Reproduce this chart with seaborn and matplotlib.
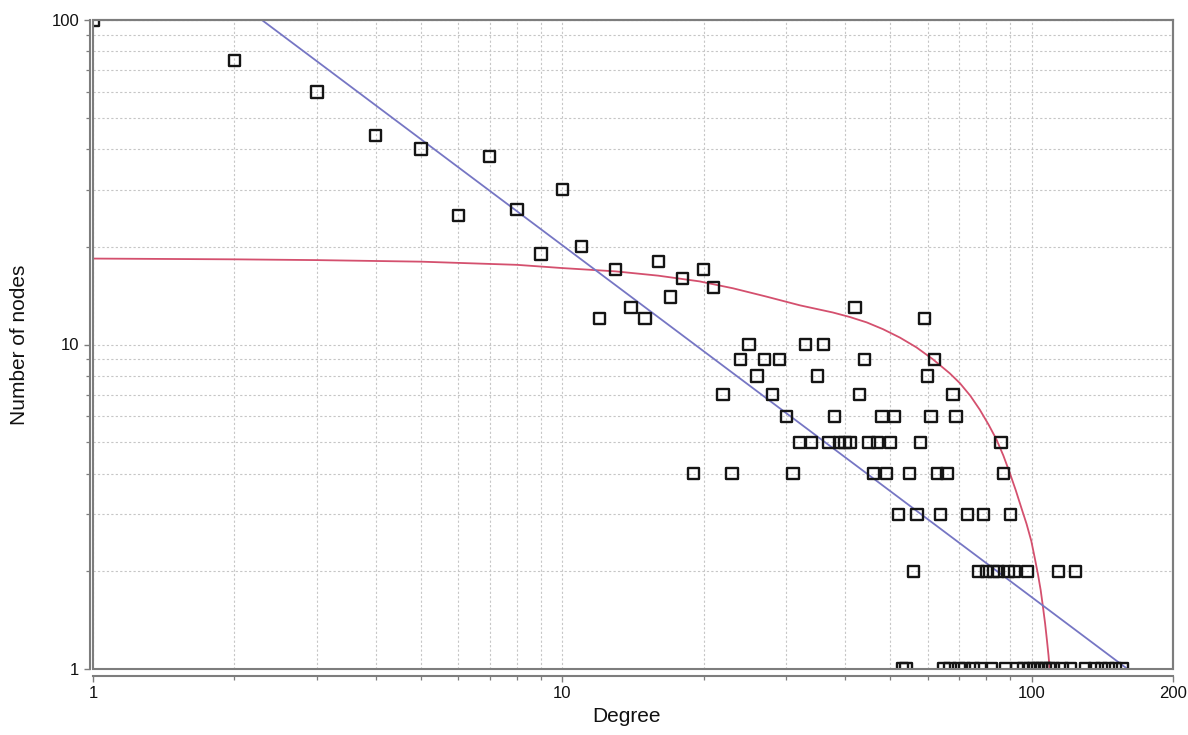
import matplotlib
matplotlib.use("Agg")
import matplotlib.pyplot as plt
import seaborn as sns
from matplotlib.patches import Rectangle
from matplotlib.ticker import FixedLocator, FixedFormatter, LogLocator, NullFormatter

# ---- data ----
degree = [1, 2, 3, 4, 5, 6, 7, 8, 9, 10, 11, 12, 13, 14, 15, 16, 17, 18, 19, 20,
          21, 22, 23, 24, 25, 26, 27, 28, 29, 30, 31, 32, 33, 34, 35, 36, 37, 38, 39, 40,
          41, 42, 43, 44, 45, 46, 47, 48, 49, 50, 51, 52, 53, 54, 55, 56, 57, 58, 59, 60,
          61, 62, 63, 64, 65, 66, 67, 68, 69, 70, 72, 73, 75, 77, 78, 79, 80, 82, 83, 85,
          86, 87, 88, 89, 90, 92, 93, 96, 98, 99, 101, 103, 105, 107, 109, 111, 114, 116,
          121, 124, 130, 136, 141, 146, 151, 156]
nodes = [100, 75, 60, 44, 40, 25, 38, 26, 19, 30, 20, 12, 17, 13, 12, 18, 14, 16, 4, 17,
         15, 7, 4, 9, 10, 8, 9, 7, 9, 6, 4, 5, 10, 5, 8, 10, 5, 6, 5, 5,
         5, 13, 7, 9, 5, 4, 5, 6, 4, 5, 6, 3, 1, 1, 4, 2, 3, 5, 12, 8,
         6, 9, 4, 3, 1, 4, 1, 7, 6, 1, 1, 3, 1, 2, 1, 3, 2, 1, 2, 2,
         5, 4, 1, 2, 3, 2, 1, 1, 2, 1, 1, 1, 1, 1, 1, 1, 2, 1,
         1, 2, 1, 1, 1, 1, 1, 1]

# power-law fit (straight line in log-log), endpoints
power_x = [2.29, 160]
power_y = [100, 1]

# cutoff fit curve
cutoff_x = [1, 2, 3, 5, 8, 10, 13, 16, 19.6, 23.1, 27.2, 32.1, 37.7, 41.0, 44.5,
            48.2, 52.4, 56.8, 61.6, 66.9, 70.3, 74.0, 77.5, 81.0, 84.1, 87.0, 89.8,
            92.5, 95.1, 97.5, 99.8, 101.5, 103.1, 104.5, 105.7, 106.8, 107.8, 108.6, 109.2]
cutoff_y = [18.4, 18.3, 18.2, 18.0, 17.6, 17.2, 16.8, 16.3, 15.65, 14.9, 14.05, 13.2,
            12.55, 12.15, 11.7, 11.15, 10.5, 9.8, 9.0, 8.15, 7.6, 6.95, 6.3, 5.65, 5.1,
            4.55, 4.02, 3.55, 3.13, 2.8, 2.48, 2.2, 1.96, 1.75, 1.55, 1.38, 1.22, 1.1, 1.0]

x_ticks = [1, 10, 100, 200]
x_tick_labels = ["1", "10", "100", "200"]
y_ticks = [1, 10, 100]
y_tick_labels = ["1", "10", "100"]

# ---- style ----
sns.set_style("white")
plt.rcParams["font.family"] = ["Liberation Sans", "DejaVu Sans"]

W, H = 1188, 735
fig = plt.figure(figsize=(W / 100, H / 100), dpi=100)
left, right, top, bottom = 93, 1173, 20, 669
ax = fig.add_axes([left / W, 1 - bottom / H, (right - left) / W, (bottom - top) / H])
ax.set_xscale("log")
ax.set_yscale("log")

frame_col = "#7d7d7d"

sns.lineplot(x=cutoff_x, y=cutoff_y, ax=ax, color="#d4506e", linewidth=1.3,
             sort=False, estimator=None, zorder=2)
sns.lineplot(x=power_x, y=power_y, ax=ax, color="#7676c4", linewidth=1.3,
             sort=False, estimator=None, zorder=2)
sns.scatterplot(x=degree, y=nodes, ax=ax, marker="s", s=66, facecolor="none",
                edgecolor="#151515", linewidth=1.7, zorder=3)
for coll in ax.collections:
    coll.set_facecolor("none")
    coll.set_edgecolor("#151515")

ax.set_xlim(1, 200)
ax.set_ylim(1, 100)

ax.xaxis.set_major_locator(FixedLocator(x_ticks))
ax.xaxis.set_major_formatter(FixedFormatter(x_tick_labels))
ax.xaxis.set_minor_locator(LogLocator(base=10, subs=range(2, 10)))
ax.xaxis.set_minor_formatter(NullFormatter())
ax.yaxis.set_major_locator(FixedLocator(y_ticks))
ax.yaxis.set_major_formatter(FixedFormatter(y_tick_labels))
ax.yaxis.set_minor_locator(LogLocator(base=10, subs=range(2, 10)))
ax.yaxis.set_minor_formatter(NullFormatter())

ax.set_axisbelow(True)
ax.grid(True, which="both", color="#c6c6c6", linestyle=(0, (2, 2)), linewidth=0.8)

for s in ["top", "right", "left", "bottom"]:
    ax.spines[s].set_visible(True)
    ax.spines[s].set_color(frame_col)
    ax.spines[s].set_linewidth(1.5)
ax.spines["left"].set_position(("outward", 2.5))
ax.spines["bottom"].set_position(("outward", 5))
ax.add_patch(Rectangle((0, 0), 1, 1, transform=ax.transAxes, fill=False,
                       edgecolor=frame_col, linewidth=1.5, clip_on=False, zorder=5))

ax.tick_params(which="major", direction="out", length=4.5, width=1.0, color=frame_col,
               labelsize=12, labelcolor="#111111", pad=3,
               bottom=True, left=True, top=False, right=False)
ax.tick_params(which="minor", direction="out", length=3, width=0.9, color=frame_col,
               bottom=True, left=True, top=False, right=False)

ax.set_xlabel("Degree", fontsize=15, color="#111111")
ax.set_ylabel("Number of nodes", fontsize=15, color="#111111")
ax.xaxis.set_label_coords((626 - left) / (right - left), (bottom - 707) / (bottom - top))
ax.yaxis.set_label_coords((29 - left) / (right - left), 0.5)

fig.savefig("out.png", dpi=100, facecolor="white")
